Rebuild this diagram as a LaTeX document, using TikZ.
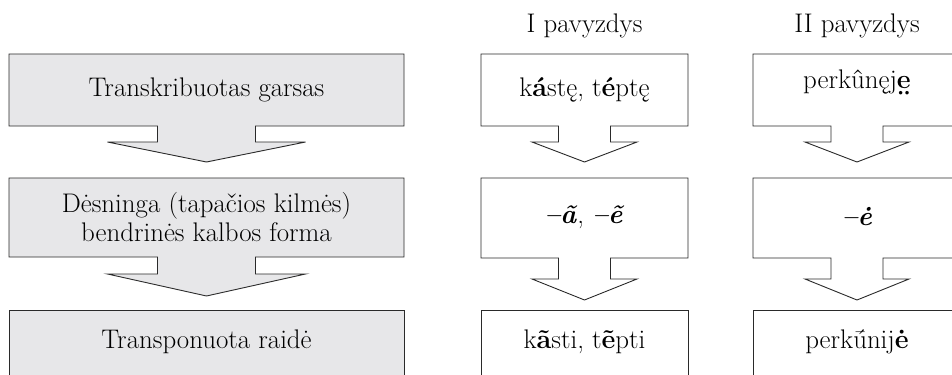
\documentclass[tikz,border=0pt]{standalone}
\usepackage{fontspec}
\setmainfont{Latin Modern Roman}
\definecolor{boxgray}{HTML}{E7E7E9}
\definecolor{edge}{HTML}{2A2A2A}
\newcommand\arrowshape[9]{%
  % #1 cx, #2 half width, #3 top, #4 bottom, #5 stem half, #6 stem bottom, #7 head half, #8 tip, #9 fill
  \draw[shapeline, fill=#9]
    ({#1-#2},#3) -- ({#1+#2},#3) -- ({#1+#2},#4) -- ({#1+#5},#4) -- ({#1+#5},#6)
    -- ({#1+#7},#6) -- (#1,#8) -- ({#1-#7},#6) -- ({#1-#5},#6) -- ({#1-#5},#4)
    -- ({#1-#2},#4) -- cycle;}
\newcommand\edotsbelow{\textbf{\ooalign{e\cr\hidewidth\raisebox{-0.78em}{¨}\hidewidth}}}
\tikzset{
  shapeline/.style={draw=edge, line width=0.9bp, line join=miter},
  lbl/.style={font=\fontsize{27}{30}\selectfont, align=center, inner sep=0pt},
}
\begin{document}
\begin{tikzpicture}[x=1bp,y=-1bp]
\clip (0,0) rectangle (952,374);
\fill[white] (0,0) rectangle (952,374);
% left column
\arrowshape{206.5}{197.5}{54}{126}{49}{142}{99}{162}{boxgray}
\arrowshape{206.5}{197.5}{178}{257}{49}{274}{99}{296}{boxgray}
\draw[shapeline, fill=boxgray] (9,310) rectangle (404,377);
% middle column
\arrowshape{584.5}{103.5}{54}{126}{26}{142}{52.5}{162}{white}
\arrowshape{584.5}{103.5}{178}{258}{26}{279}{52.5}{300}{white}
\draw[shapeline, fill=white] (481,310) rectangle (688,377);
% right column
\arrowshape{857}{104}{54}{126}{26}{142}{52}{162}{white}
\arrowshape{857}{104}{178}{258}{26}{279}{52}{300}{white}
\draw[shapeline, fill=white] (753,310) rectangle (961,377);
% headers
\node[lbl] (h1) at (584.5,26) {I pavyzdys};
\node[lbl] (h2) at (857,26) {II pavyzdys};
% left texts
\node[lbl] (l1) at (206.5,90) {Transkribuotas garsas};
\node[lbl] (l2) at (206.5,217) {Dėsninga (tapačios kilmės)\\bendrinės kalbos forma};
\node[lbl] (l3) at (206.5,342) {Transponuota raidė};
% middle texts
\node[lbl] (m1) at (584.5,90) {k\textbf{á}stę, t\textbf{é}ptę};
\node[lbl] (m2) at (584.5,217) {\textbf{\textit{–ã}}, \textbf{\textit{–ẽ}}};
\node[lbl] (m3) at (584.5,342) {k\textbf{ã}sti, t\textbf{ẽ}pti};
% right texts
\node[lbl] (r1) at (857,90) {perkûnęj\edotsbelow};
\node[lbl] (r2) at (857,217) {\textbf{\textit{–ė}}};
\node[lbl] (r3) at (857,342) {perkū́nij\textbf{ė}};
\end{tikzpicture}
\end{document}
